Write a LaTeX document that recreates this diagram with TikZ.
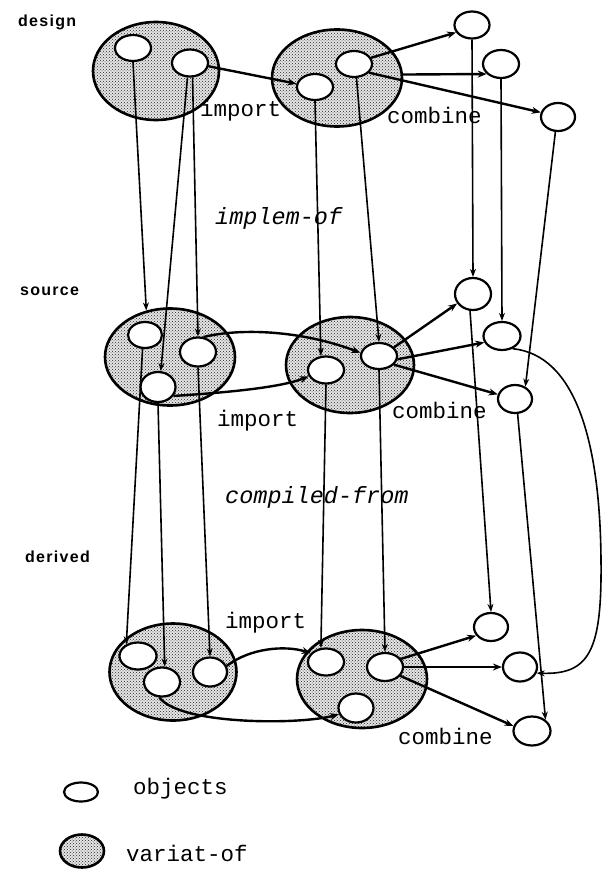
\documentclass[tikz,border=0pt]{standalone}
\usepackage{fontspec}
\usetikzlibrary{shapes.geometric,arrows.meta,patterns}
\newfontfamily\monofont{Liberation Mono}
\newfontfamily\lvlfont{Liberation Sans Bold}[LetterSpace=8]

\tikzset{
  varset/.style={ellipse, draw, line width=2.6pt, inner sep=0pt,
    preaction={fill=black!10}, pattern=crosshatch dots, pattern color=black!85},
  obj/.style={ellipse, draw, line width=2.2pt, fill=white, inner sep=0pt},
  impl/.style={line width=1.6pt, -{Stealth[length=8pt,width=6pt]}},
  rel/.style={line width=2.4pt, -{Stealth[length=9pt,width=7pt]}},
  lvl/.style={anchor=west, inner sep=0pt, font=\lvlfont\fontsize{16}{18}\selectfont},
  lbl/.style={anchor=west, inner sep=0pt, font=\monofont\fontsize{22.5}{24}\selectfont},
  itl/.style={anchor=west, inner sep=0pt, font=\monofont\itshape\fontsize{23.5}{25}\selectfont},
}

\begin{document}
\begin{tikzpicture}[x=1pt, y=-1pt]
\useasboundingbox (0,0) rectangle (606,869);

% level names
\node[lvl] (tdesign)  at (18,22)  {design};
\node[lvl] (tsource)  at (20,291) {source};
\node[lvl] (tderived) at (25,557) {derived};

% ---------- design level ----------
\node[varset, minimum width=126pt, minimum height=98pt] (A1) at (156,71) {};
\node[varset, minimum width=130pt, minimum height=97pt] (A2) at (337,78) {};
\node[obj, minimum width=36pt, minimum height=26pt] (a1) at (133,48) {};
\node[obj, minimum width=36pt, minimum height=27pt] (a2) at (190,63) {};
\node[obj, minimum width=36pt, minimum height=26pt] (a3) at (315,87) {};
\node[obj, minimum width=36pt, minimum height=26pt] (a4) at (354,64) {};
\node[obj, minimum width=35pt, minimum height=27pt] (b1) at (472,25) {};
\node[obj, minimum width=36pt, minimum height=28pt] (b2) at (501,64) {};
\node[obj, minimum width=34pt, minimum height=28pt] (b3) at (558,117) {};

% ---------- source level ----------
\node[varset, minimum width=130pt, minimum height=97pt] (B1) at (170,357) {};
\node[varset, minimum width=128pt, minimum height=96pt] (B2) at (350,365) {};
\node[obj, minimum width=34pt, minimum height=26pt] (c1) at (145,335) {};
\node[obj, minimum width=36pt, minimum height=29pt] (c2) at (198,352) {};
\node[obj, minimum width=35pt, minimum height=30pt] (c3) at (158,387) {};
\node[obj, minimum width=36pt, minimum height=27pt] (c4) at (326,370) {};
\node[obj, minimum width=36pt, minimum height=26pt] (c5) at (379,356) {};
\node[obj, minimum width=36pt, minimum height=32pt] (d1) at (473,294) {};
\node[obj, minimum width=37pt, minimum height=28pt] (d2) at (502,336) {};
\node[obj, minimum width=34pt, minimum height=28pt] (d3) at (515,399) {};

% ---------- derived level ----------
\node[varset, minimum width=127pt, minimum height=97pt] (C1) at (173,672) {};
\node[varset, minimum width=130pt, minimum height=98pt] (C2) at (362,679) {};
\node[obj, minimum width=37pt, minimum height=27pt] (e1) at (138,656) {};
\node[obj, minimum width=36pt, minimum height=29pt] (e2) at (162,682) {};
\node[obj, minimum width=34pt, minimum height=29pt] (e3) at (210,672) {};
\node[obj, minimum width=36pt, minimum height=27pt] (e4) at (326,662) {};
\node[obj, minimum width=36pt, minimum height=28pt] (e5) at (385,667) {};
\node[obj, minimum width=35pt, minimum height=29pt] (e6) at (356,708) {};
\node[obj, minimum width=34pt, minimum height=28pt] (f1) at (491,627) {};
\node[obj, minimum width=34pt, minimum height=29pt] (f2) at (520,667) {};
\node[obj, minimum width=37pt, minimum height=29pt] (f3) at (532,731) {};

% ---------- relation labels ----------
\node[lbl] (imp1) at (200,111) {import};
\node[lbl] (cmb1) at (387,115) {combine};
\node[itl] (implof) at (215,218) {implem-of};
\node[lbl] (imp2) at (217,421) {import};
\node[lbl] (cmb2) at (392,410) {combine};
\node[itl] (cmpfr) at (225,497) {compiled-from};
\node[lbl] (imp3) at (225,623) {import};
\node[lbl] (cmb3) at (398,736) {combine};

% ---------- implem-of: design -> source ----------
\draw[impl] (a1.south) -- (B1.117);
\draw[impl] (a2.-100) -- (c3.80);
\draw[impl] (a2.-80) -- (c2.north);
\draw[impl] (a3.south) -- (c4.110);
\draw[impl] (a4.-80) -- (c5.north);
\draw[impl] (b1.south) -- (d1.north);
\draw[impl] (b2.south) -- (d2.north);
\draw[impl] (b3.-100) -- (d3.50);

% ---------- compiled-from: source -> derived ----------
\draw[impl] (c1.-100) -- (e1.135);
\draw[impl] (c3.south) -- (e2.80);
\draw[impl] (c2.south) -- (e3.north);
\draw[impl] (c4.south) -- (e4.110);
\draw[impl] (c5.south) -- (e5.north);
\draw[impl] (d1.-100) -- (f1.north);
\draw[impl] (d3.-80) -- (f3.40);
\draw[impl] (d2.-50) .. controls (575,355) and (600,440) .. (601,560)
                     .. controls (602,650) and (590,675) .. (f2.-20);

% ---------- import / combine: design ----------
\draw[rel] (a2.-10) -- (a3.170);
\draw[rel] (a4.20) -- (b1.205);
\draw[rel] (A2.3) -- (b2.215);
\draw[rel] (a4.-30) -- (b3.165);

% ---------- import / combine: source ----------
\draw[rel] (c2.70) .. controls (240,328) and (300,330) .. (c5.170);
\draw[rel] (c3.-30) .. controls (220,393) and (280,388) .. (c4.200);
\draw[rel] (c5.30) -- (d1.211);
\draw[rel] (c5.-10) -- (d2.200);
\draw[rel] (c5.-30) -- (d3.165);

% ---------- import / combine: derived ----------
\draw[rel] (e3.20) .. controls (250,648) and (285,645) .. (e4.150);
\draw[rel] (e2.-100) .. controls (180,725) and (300,725) .. (e6.200);
\draw[rel] (e5.27) -- (f1.210);
\draw[rel] (e5.east) -- (f2.west);
\draw[rel] (e5.-30) -- (f3.165);

% ---------- legend ----------
\node[obj, minimum width=34pt, minimum height=19pt] (Lobj) at (81,792) {};
\node[lbl] (Ltobj) at (133,789) {objects};
\node[varset, minimum width=44pt, minimum height=33pt] (Lvar) at (82,851) {};
\node[lbl] (Ltvar) at (126,853) {variat-of};
\end{tikzpicture}
\end{document}
